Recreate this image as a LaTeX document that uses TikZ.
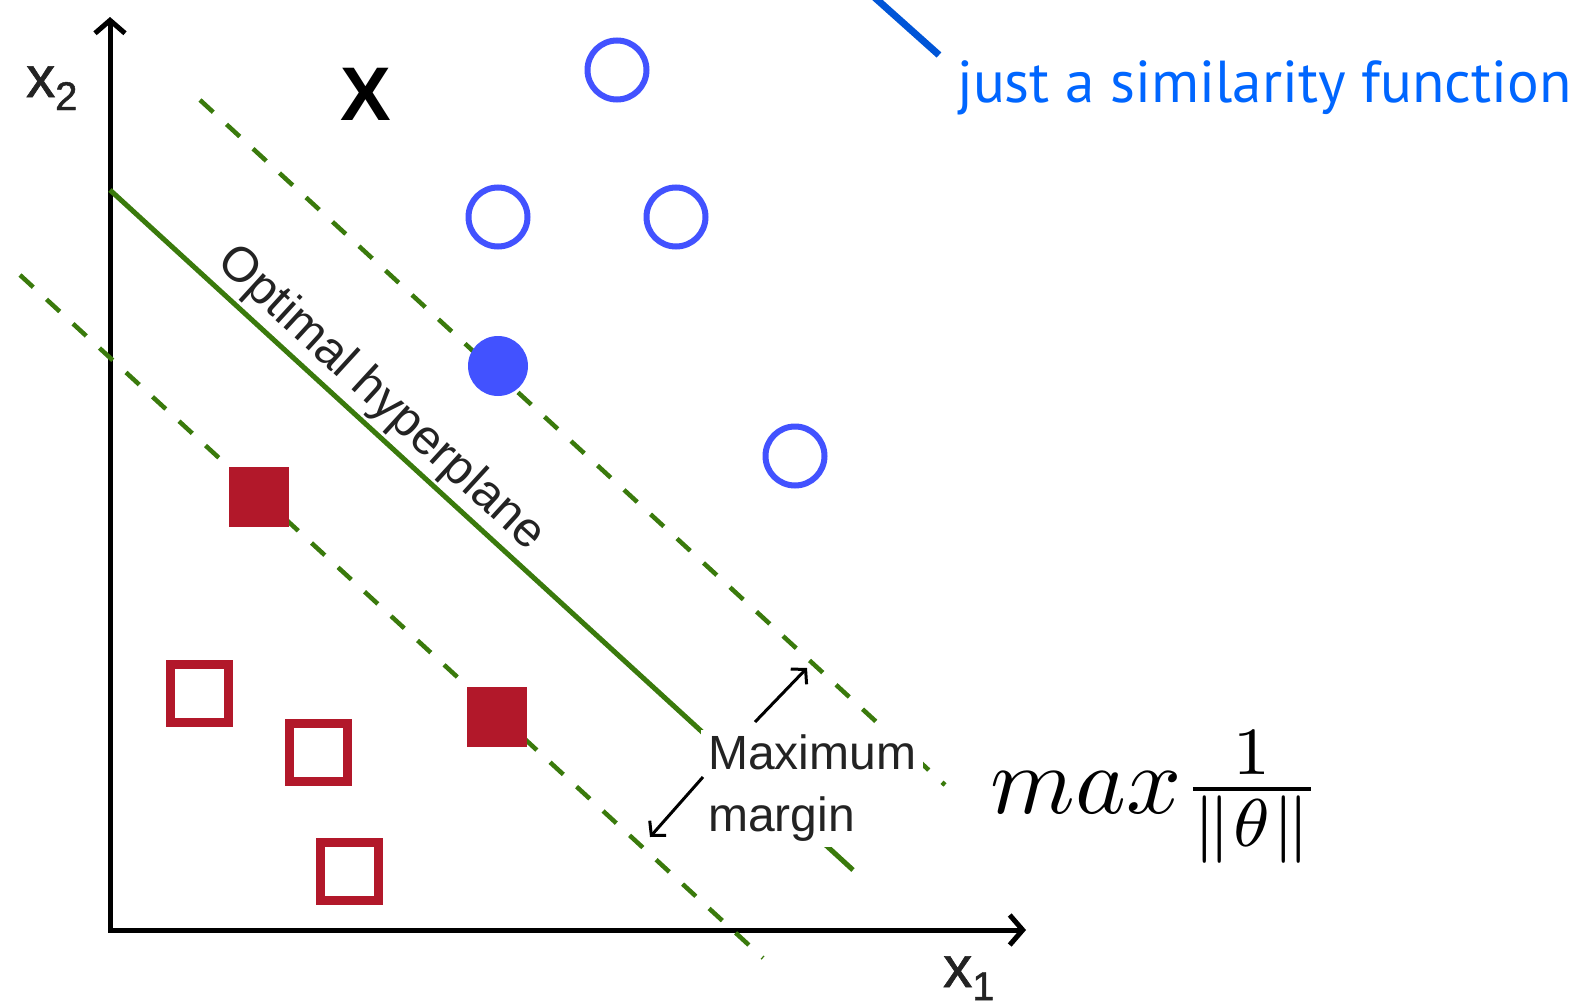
\documentclass[tikz,border=0pt]{standalone}
\usepackage{fontspec}
\setmainfont{Liberation Sans}
\newfontfamily\ptsans{PT Sans}
\newfontfamily\semisans[FakeBold=1.2]{Liberation Sans}
\usetikzlibrary{arrows.meta}
\definecolor{svmgreen}{RGB}{58,122,12}
\definecolor{ptblue}{RGB}{66,82,255}
\definecolor{ptred}{RGB}{178,24,42}
\definecolor{annblue}{RGB}{0,102,255}
\definecolor{linkblue}{RGB}{0,85,215}
\definecolor{labelgray}{RGB}{35,35,35}
\begin{document}
\begin{tikzpicture}[x=1pt,y=-1pt,
  axis/.style={line width=5pt, line join=miter, black,
     {Straight Barb[length=13pt,width=30pt]}-{Straight Barb[length=13pt,width=30pt]}},
  hyper/.style={line width=5pt, svmgreen},
  marginline/.style={line width=4.5pt, svmgreen, dash pattern=on 18pt off 18pt},
  opencirc/.style={circle, draw=ptblue, line width=6pt, minimum size=59pt, inner sep=0pt},
  fullcirc/.style={circle, fill=ptblue, minimum size=60pt, inner sep=0pt},
  opensq/.style={rectangle, draw=ptred, line width=9pt, minimum size=58pt, inner sep=0pt},
  fullsq/.style={rectangle, fill=ptred, minimum size=60pt, inner sep=0pt},
  axlabel/.style={text=labelgray, inner sep=0pt, font=\semisans\fontsize{58}{58}\selectfont},
  mlabel/.style={text=labelgray, fill=white, align=left, inner xsep=7pt, inner ysep=5pt,
     font=\fontsize{48}{62}\selectfont},
  marrow/.style={line width=3pt, black, -{Straight Barb[length=10pt,width=22pt]}},
  pointer/.style={line width=7pt, linkblue}
]
\fill[white] (0,0) rectangle (1591,1001);
\useasboundingbox (0,0) rectangle (1591,1001);
\clip (0,0) rectangle (1591,1001);

% axes
\coordinate (ytip) at (110,17);
\coordinate (orig) at (110,930);
\coordinate (xtip) at (1026,930);
\draw[axis] (ytip) -- (orig) -- (xtip);

% margin lines
\coordinate (u1) at (200,100);
\coordinate (u2) at (945,785);
\coordinate (l1) at (20,275);
\coordinate (l2) at (763,958);
\draw[marginline] (u1) -- (u2);
\draw[marginline] (l1) -- (l2);

% hyperplane
\coordinate (h1) at (110,190);
\coordinate (h2) at (853,870);
\draw[hyper] (h1) -- node[sloped, above, pos=0.338, inner sep=3pt, text=labelgray,
   font=\fontsize{49}{49}\selectfont] (hyplab) {Optimal hyperplane} (h2);

% points
\node[opencirc] (c1) at (617,70) {};
\node[opencirc] (c2) at (498,217) {};
\node[opencirc] (c3) at (676,217) {};
\node[opencirc] (c4) at (795,456) {};
\node[fullcirc] (c5) at (498,366) {};
\node[fullsq] (s1) at (259,497) {};
\node[fullsq] (s2) at (497,717) {};
\node[opensq] (s3) at (199.5,693) {};
\node[opensq] (s4) at (318,752) {};
\node[opensq] (s5) at (349,871) {};

% maximum margin label
\node[mlabel, anchor=north west] (mm) at (701,730) {Maximum\\margin};
\coordinate (a1s) at (755,722);
\coordinate (a1e) at (807,668);
\coordinate (a2s) at (703,777);
\coordinate (a2e) at (650,837);
\draw[marrow] (a1s) -- (a1e);
\draw[marrow] (a2s) -- (a2e);

% axis labels
\node[axlabel, anchor=base west] (x2lab) at (26,97)
  {x\raisebox{-13pt}{\fontsize{40}{40}\selectfont 2}};
\node[axlabel, anchor=base west] (x1lab) at (943,987)
  {x\raisebox{-13pt}{\fontsize{40}{40}\selectfont 1}};
\node[inner sep=0pt, font=\fontsize{76}{76}\selectfont\bfseries] (bigx) at (366,94) {X};

% objective
\node[anchor=base west, inner sep=0pt] (obj) at (990,813)
  {\resizebox{332pt}{!}{$max\frac{1}{\|\theta\|}$}};

% annotation
\node[anchor=base west, inner sep=0pt, text=annblue] (sim) at (957,102)
  {\resizebox{614pt}{!}{\ptsans just a similarity function}};
\coordinate (ptrtop) at (873,-4);
\coordinate (ptrend) at (939,55);
\draw[pointer] (ptrtop) -- (ptrend);
\end{tikzpicture}
\end{document}
